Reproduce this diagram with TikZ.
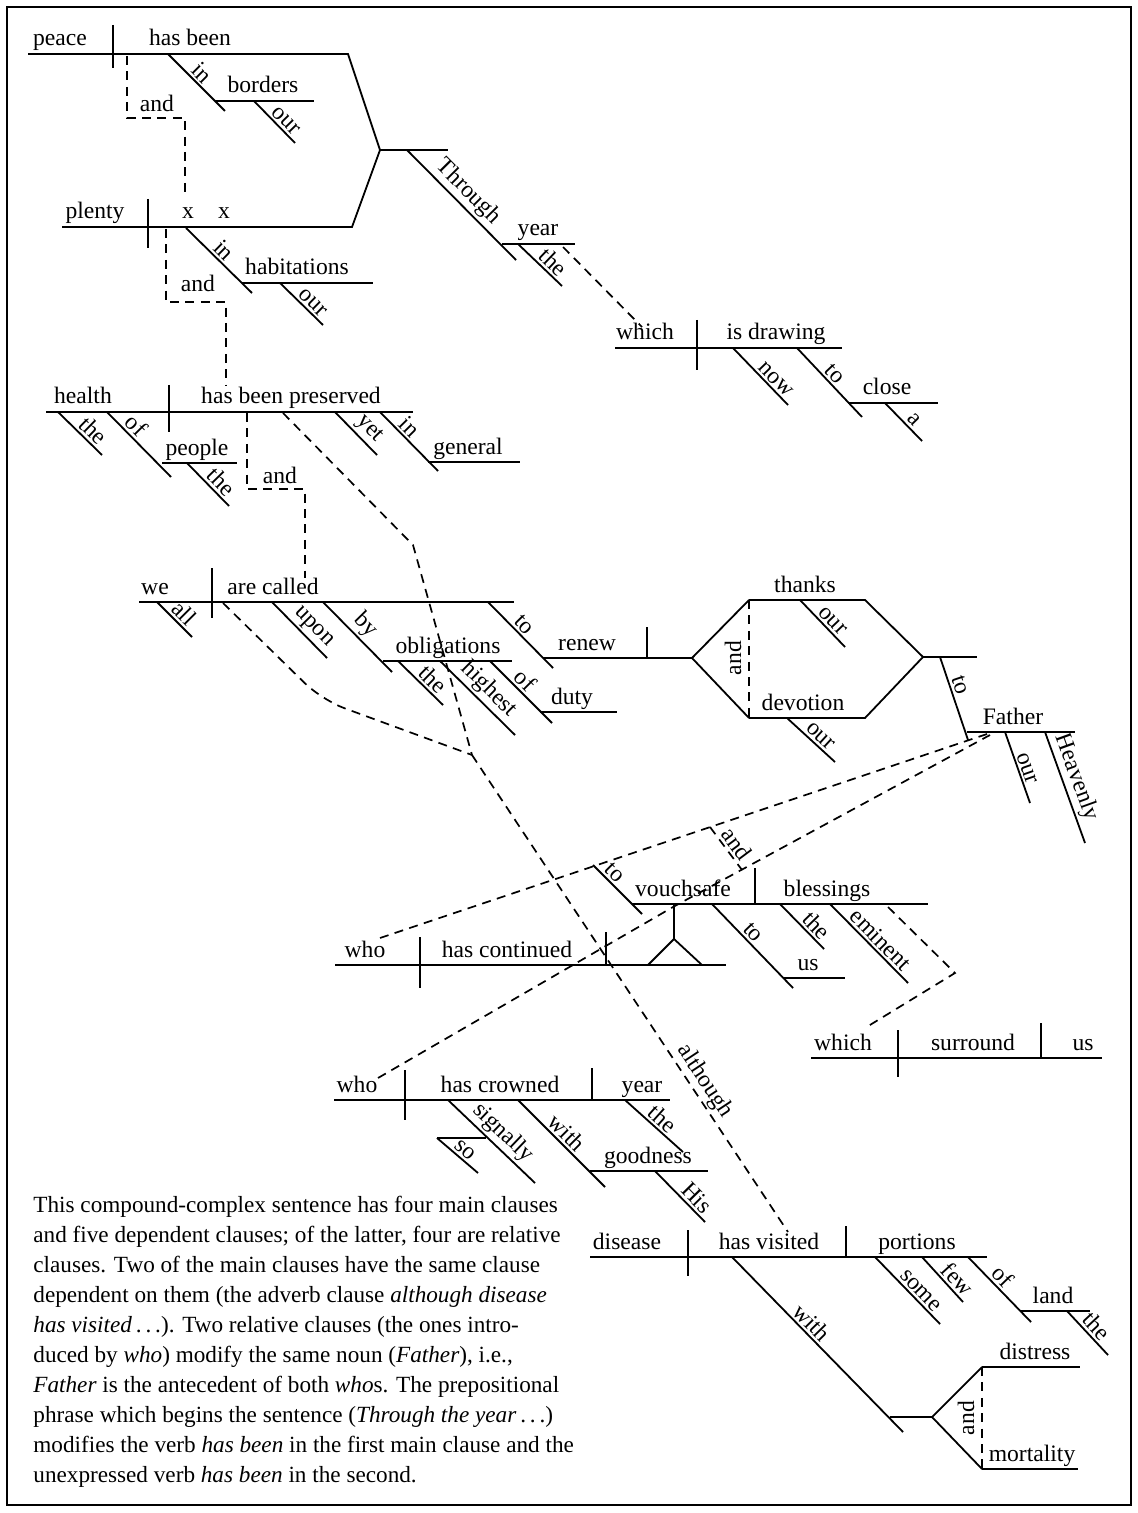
\documentclass[tikz,border=0pt]{standalone}
\usepackage{fontspec}
\setmainfont{Liberation Serif}
\newcommand\dgl[5]{\draw[ln] #2 -- #3 node[lab,pos=#4] (#1) {#5};}
\begin{document}
\begin{tikzpicture}[x=0.5pt,y=-0.5pt,
  ln/.style={line width=0.9pt},
  dsh/.style={line width=0.85pt,dash pattern=on 4.5pt off 3.2pt},
  wd/.style={anchor=base,inner sep=0pt,font=\fontsize{11.8}{14}\selectfont},
  lab/.style={sloped,above,inner sep=1.2pt,font=\fontsize{11.8}{14}\selectfont},
  cj/.style={inner sep=0pt,font=\fontsize{11.8}{14}\selectfont},
  para/.style={anchor=base west,inner sep=0pt,font=\fontsize{11.6}{15}\selectfont}]
\useasboundingbox (0,0) rectangle (1138,1513);
\draw[line width=1pt] (7,7) rectangle (1131,1505);

% clause 1: peace
\draw[ln] (28,54) -- (348,54) -- (380,150) -- (352,227) -- (62,227);
\draw[ln] (113,25) -- (113,68);
\node[wd] (peace) at (60,46) {peace};
\node[wd] (hasbeen) at (190,46) {has been};
\dgl{in1}{(168,54)}{(225,111)}{0.46}{in}
\draw[ln] (215,101) -- (314,101);
\node[wd] (borders) at (263,93) {borders};
\dgl{our1}{(254,101)}{(295,143)}{0.62}{our}
\draw[dsh] (127,56) -- (127,118) -- (185,118) -- (185,198);
\node[cj] (and1) at (157,103) {and};

% clause 2: plenty
\draw[ln] (148,199) -- (148,248);
\node[wd] (plenty) at (95,219) {plenty};
\node[wd] (x1) at (188,219) {x};
\node[wd] (x2) at (224,219) {x};
\dgl{in2}{(186,228)}{(252,293)}{0.46}{in}
\draw[ln] (242,283) -- (373,283);
\node[wd] (habitations) at (297,275) {habitations};
\dgl{our2}{(280,283)}{(323,325)}{0.62}{our}
\draw[dsh] (166,229) -- (166,302) -- (226,302) -- (226,386);
\node[cj] (and2) at (198,283) {and};

% Through the year
\draw[ln] (380,150) -- (448,150);
\dgl{through}{(407,150)}{(516,260)}{0.47}{Through}
\draw[ln] (502,244) -- (575,244);
\node[wd] (year1) at (538,236) {year};
\dgl{the1}{(518,244)}{(562,286)}{0.62}{the}
\draw[dsh] (563,247) -- (642,327);

% which is drawing
\draw[ln] (615,348) -- (842,348);
\draw[ln] (697,320) -- (697,370);
\node[wd] (which1) at (645,340) {which};
\node[wd] (isdrawing) at (776,340) {is drawing};
\dgl{now}{(733,348)}{(788,405)}{0.66}{now}
\dgl{to1}{(797,348)}{(862,417)}{0.47}{to}
\draw[ln] (848,403) -- (938,403);
\node[wd] (close) at (887,395) {close};
\dgl{a}{(885,403)}{(922,441)}{0.6}{a}

% health
\draw[ln] (46,412) -- (413,412);
\draw[ln] (169,385) -- (169,432);
\node[wd] (health) at (83,404) {health};
\node[wd] (hbp) at (291,404) {has been preserved};
\dgl{the2}{(58,412)}{(102,455)}{0.62}{the}
\dgl{of1}{(107,412)}{(171,477)}{0.33}{of}
\draw[ln] (162,463) -- (237,463);
\node[wd] (people) at (197,455) {people};
\dgl{the3}{(187,463)}{(229,506)}{0.62}{the}
\dgl{yet}{(335,412)}{(377,455)}{0.6}{yet}
\dgl{in3}{(380,412)}{(438,471)}{0.38}{in}
\draw[ln] (428,462) -- (520,462);
\node[wd] (general) at (468,454) {general};
\draw[dsh] (247,413) -- (247,489) -- (305,489) -- (305,578);
\node[cj] (and3) at (280,475) {and};

% we are called
\draw[ln] (139,602) -- (514,602);
\draw[ln] (212,568) -- (212,618);
\node[wd] (we) at (155,594) {we};
\node[wd] (arecalled) at (273,594) {are called};
\dgl{all}{(157,602)}{(192,637)}{0.55}{all}
\dgl{upon}{(272,602)}{(327,658)}{0.6}{upon}
\dgl{by}{(323,602)}{(392,672)}{0.47}{by}
\draw[ln] (383,661) -- (512,661);
\node[wd] (obligations) at (448,653) {obligations};
\dgl{the4}{(398,661)}{(443,705)}{0.6}{the}
\dgl{highest}{(440,661)}{(515,735)}{0.52}{highest}
\dgl{of2}{(490,661)}{(552,723)}{0.44}{of}
\draw[ln] (540,712) -- (617,712);
\node[wd] (duty) at (572,704) {duty};
\dgl{to2}{(488,602)}{(553,668)}{0.45}{to}
\draw[ln] (543,658) -- (692,658);
\node[wd] (renew) at (587,650) {renew};
\draw[ln] (647,627) -- (647,658);
\draw[ln] (749,600) -- (692,658) -- (749,718);
\draw[ln] (749,600) -- (865,600) -- (923,657) -- (865,718) -- (749,718);
\draw[dsh] (749,600) -- (749,718);
\node[cj,rotate=90] (and4) at (733,658) {and};
\node[wd] (thanks) at (805,592) {thanks};
\dgl{our3}{(800,600)}{(845,647)}{0.58}{our}
\node[wd] (devotion) at (803,710) {devotion};
\dgl{our4}{(787,718)}{(835,762)}{0.57}{our}
\draw[ln] (923,657) -- (977,657);
\dgl{to3}{(940,657)}{(968,740)}{0.38}{to}
\draw[ln] (967,732) -- (1075,732);
\node[wd] (father) at (1013,724) {Father};
\dgl{our5}{(1005,732)}{(1030,803)}{0.55}{our}
\dgl{heavenly}{(1045,732)}{(1085,843)}{0.45}{Heavenly}

% who has continued
\draw[ln] (335,965) -- (726,965);
\draw[ln] (420,937) -- (420,988);
\node[wd] (who1) at (365,957) {who};
\node[wd] (hascontinued) at (507,957) {has continued};
\draw[ln] (606,932) -- (606,965);
\draw[ln] (648,965) -- (674,939) -- (702,965);
\draw[ln] (674,939) -- (674,904);
\draw[ln] (632,904) -- (928,904);
\dgl{to4}{(593,865)}{(642,914)}{0.3}{to}
\node[wd] (vouchsafe) at (683,896) {vouchsafe};
\draw[ln] (755,868) -- (755,904);
\node[wd] (blessings) at (827,896) {blessings};
\dgl{to5}{(712,904)}{(793,988)}{0.42}{to}
\draw[ln] (783,978) -- (845,978);
\node[wd] (us1) at (808,970) {us};
\dgl{the5}{(780,904)}{(824,949)}{0.65}{the}
\dgl{eminent}{(830,904)}{(908,983)}{0.55}{eminent}
\draw[dsh] (888,907) -- (955,973) -- (865,1028);

% which surround us
\draw[ln] (811,1058) -- (1102,1058);
\draw[ln] (898,1030) -- (898,1077);
\draw[ln] (1041,1023) -- (1041,1058);
\node[wd] (which2) at (843,1050) {which};
\node[wd] (surround) at (973,1050) {surround};
\node[wd] (us2) at (1083,1050) {us};

% who has crowned year
\draw[ln] (334,1100) -- (670,1100);
\draw[ln] (405,1070) -- (405,1120);
\draw[ln] (592,1068) -- (592,1100);
\node[wd] (who2) at (357,1092) {who};
\node[wd] (hascrowned) at (500,1092) {has crowned};
\node[wd] (year2) at (642,1092) {year};
\dgl{the6}{(625,1100)}{(683,1152)}{0.52}{the}
\dgl{signally}{(448,1100)}{(535,1183)}{0.52}{signally}
\draw[ln] (486,1138) -- (437,1138);
\dgl{so}{(437,1138)}{(478,1173)}{0.55}{so}
\dgl{with1}{(518,1100)}{(605,1187)}{0.47}{with}
\draw[ln] (590,1171) -- (708,1171);
\node[wd] (goodness) at (648,1163) {goodness};
\dgl{his}{(655,1171)}{(705,1222)}{0.68}{His}

% disease has visited portions
\draw[ln] (590,1257) -- (987,1257);
\draw[ln] (688,1230) -- (688,1276);
\draw[ln] (846,1226) -- (846,1257);
\node[wd] (disease) at (627,1249) {disease};
\node[wd] (hasvisited) at (769,1249) {has visited};
\node[wd] (portions) at (917,1249) {portions};
\dgl{some}{(875,1257)}{(940,1324)}{0.6}{some}
\dgl{few}{(922,1257)}{(963,1302)}{0.66}{few}
\dgl{of3}{(968,1257)}{(1031,1322)}{0.42}{of}
\draw[ln] (1020,1311) -- (1090,1311);
\node[wd] (land) at (1053,1303) {land};
\dgl{the7}{(1067,1311)}{(1108,1355)}{0.52}{the}
\dgl{with2}{(732,1257)}{(903,1432)}{0.42}{with}
\draw[ln] (890,1417) -- (932,1417);
\draw[ln] (982,1367) -- (932,1417) -- (982,1469);
\draw[ln] (982,1367) -- (1080,1367);
\draw[ln] (982,1469) -- (1078,1469);
\draw[dsh] (982,1367) -- (982,1469);
\node[cj,rotate=90] (and5) at (966,1418) {and};
\node[wd] (distress) at (1035,1359) {distress};
\node[wd] (mortality) at (1032,1461) {mortality};

% although links
\draw[dsh] (283,413) -- (413,545) -- (472,755);
\draw[dsh,rounded corners=12pt] (223,603) -- (322,700) -- (472,755);
\draw[dsh] (472,755) -- (788,1232) node[lab,pos=0.7] (although) {although};

% who links to Father
\draw[dsh] (380,938) -- (990,733);
\draw[dsh] (378,1078) -- (673,907) -- (990,735);
\draw[dsh] (710,827) -- (742,870) node[lab,pos=0.55] (and6) {and};

% paragraph
\node[para] (t1) at (33,1212) {This compound-complex sentence has four main clauses};
\node[para] (t2) at (33,1242) {and five dependent clauses; of the latter, four are relative};
\node[para] (t3) at (33,1272) {clauses. Two of the main clauses have the same clause};
\node[para] (t4) at (33,1302) {dependent on them (the adverb clause \textit{although disease}};
\node[para] (t5) at (33,1332) {\textit{has visited}\,.\,.\,.). Two relative clauses (the ones intro-};
\node[para] (t6) at (33,1362) {duced by \textit{who}) modify the same noun (\textit{Father}), i.e.,};
\node[para] (t7) at (33,1392) {\textit{Father} is the antecedent of both \textit{who}s. The prepositional};
\node[para] (t8) at (33,1422) {phrase which begins the sentence (\textit{Through the year}\,.\,.\,.)};
\node[para] (t9) at (33,1452) {modifies the verb \textit{has been} in the first main clause and the};
\node[para] (t10) at (33,1482) {unexpressed verb \textit{has been} in the second.};
\end{tikzpicture}
\end{document}
